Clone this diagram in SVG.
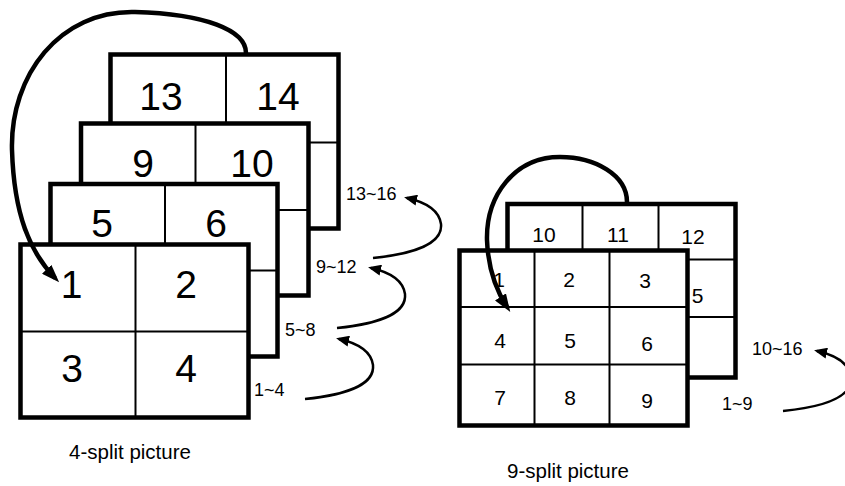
<svg xmlns="http://www.w3.org/2000/svg" width="845" height="486" viewBox="0 0 845 486">
<style>
.frame{fill:#fff;stroke:#000;stroke-width:4.5}
.grid{fill:none;stroke:#000;stroke-width:2}
.big{font-family:"Liberation Sans",Arial,sans-serif;font-size:39px;fill:#000;text-anchor:middle}
.mid{font-family:"Liberation Sans",Arial,sans-serif;font-size:21px;fill:#000;text-anchor:middle}
.lbl{font-family:"Liberation Sans",Arial,sans-serif;font-size:18px;fill:#000}
.cap{font-family:"Liberation Sans",Arial,sans-serif;font-size:20.5px;fill:#000}
.bigarrow{fill:none;stroke:#000;stroke-width:4.5}
.smallarrow{fill:none;stroke:#000;stroke-width:2.5}
</style>
<defs>
<marker id="headBig" markerUnits="userSpaceOnUse" markerWidth="18" markerHeight="13" viewBox="0 0 18 13" refX="12" refY="6.5" orient="auto"><path d="M0,0 L18,6.5 L0,13 z" fill="#000"/></marker>
<marker id="headSmall" markerUnits="userSpaceOnUse" markerWidth="13" markerHeight="11" viewBox="0 0 13 11" refX="10" refY="5.5" orient="auto"><path d="M0,0 L13,5.5 L0,11 z" fill="#000"/></marker>
</defs>
<rect x="0" y="0" width="845" height="486" fill="#fff"/>

<!-- 4-split stack -->
<g id="frame4-13-16">
<rect class="frame" x="110.5" y="54.5" width="228" height="174"/>
<path class="grid" d="M226,54.5 V228.5 M110.5,142.5 H338.5"/>
<text class="big" x="161" y="110">13</text>
<text class="big" x="278" y="110">14</text>
</g>
<g id="frame4-9-12">
<rect class="frame" x="81" y="123.5" width="227.5" height="172"/>
<path class="grid" d="M195.5,123.5 V295.5 M81,210 H308.5"/>
<text class="big" x="143" y="177">9</text>
<text class="big" x="252" y="177">10</text>
</g>
<g id="frame4-5-8">
<rect class="frame" x="50.5" y="184" width="227" height="172.5"/>
<path class="grid" d="M165,184 V356.5 M50.5,270.5 H277.5"/>
<text class="big" x="102" y="237">5</text>
<text class="big" x="216" y="237">6</text>
</g>
<g id="frame4-1-4">
<rect class="frame" x="20.5" y="244.5" width="228" height="173"/>
<path class="grid" d="M135.5,244.5 V417.5 M20.5,331.5 H248.5"/>
<text class="big" x="71.5" y="298">1</text>
<text class="big" x="186" y="298">2</text>
<text class="big" x="72" y="382">3</text>
<text class="big" x="186" y="382">4</text>
</g>

<!-- 9-split stack -->
<g id="frame9-10-16">
<rect class="frame" x="507.5" y="204" width="228" height="173.5"/>
<path class="grid" d="M582.5,204 V377.5 M658.5,204 V377.5 M507.5,259.5 H735.5 M507.5,317 H735.5"/>
<text class="mid" x="544" y="242">10</text>
<text class="mid" x="618" y="242">11</text>
<text class="mid" x="693" y="244">12</text>
<text class="mid" x="697.5" y="303">5</text>
</g>
<g id="frame9-1-9">
<rect class="frame" x="459.5" y="250.5" width="228" height="175"/>
<path class="grid" d="M534.5,250.5 V425.5 M609.5,250.5 V425.5 M459.5,307 H687.5 M459.5,364.5 H687.5"/>
<text class="mid" x="499" y="287">1</text>
<text class="mid" x="569" y="287">2</text>
<text class="mid" x="645" y="288">3</text>
<text class="mid" x="500" y="348">4</text>
<text class="mid" x="570" y="348">5</text>
<text class="mid" x="647" y="351">6</text>
<text class="mid" x="500" y="405">7</text>
<text class="mid" x="570" y="405">8</text>
<text class="mid" x="647" y="408">9</text>
</g>

<!-- labels -->
<g id="labels">
<text class="lbl" x="346" y="200">13~16</text>
<text class="lbl" x="316" y="273">9~12</text>
<text class="lbl" x="285" y="336">5~8</text>
<text class="lbl" x="254" y="396">1~4</text>
<text class="lbl" x="752" y="355">10~16</text>
<text class="lbl" x="722" y="410">1~9</text>
<text class="cap" x="69" y="459">4-split picture</text>
<text class="cap" x="507" y="478">9-split picture</text>
</g>

<!-- connectors -->
<g id="connectors">
<path class="bigarrow" marker-end="url(#headBig)" d="M246,53 C246,30 205,14 135,12 C60,10 10,75 12,150 C14,215 30,252 55,278"/>
<path class="bigarrow" marker-end="url(#headBig)" d="M627,202 C627,175 595,157 560,157 C515,157 486,195 487,240 C488,268 496,290 507,307"/>
<path class="smallarrow" marker-end="url(#headSmall)" d="M305,399 c40,-4 70,-14 68,-34 c-2,-14 -16,-22 -34,-26"/>
<path class="smallarrow" marker-end="url(#headSmall)" d="M337,328 c40,-4 70,-14 68,-34 c-2,-14 -16,-22 -34,-26"/>
<path class="smallarrow" marker-end="url(#headSmall)" d="M373,258 c40,-4 70,-14 68,-34 c-2,-14 -16,-22 -34,-26"/>
<path class="smallarrow" marker-end="url(#headSmall)" d="M783,411 c40,-4 70,-14 68,-34 c-2,-14 -16,-22 -34,-26"/>
</g>
</svg>
